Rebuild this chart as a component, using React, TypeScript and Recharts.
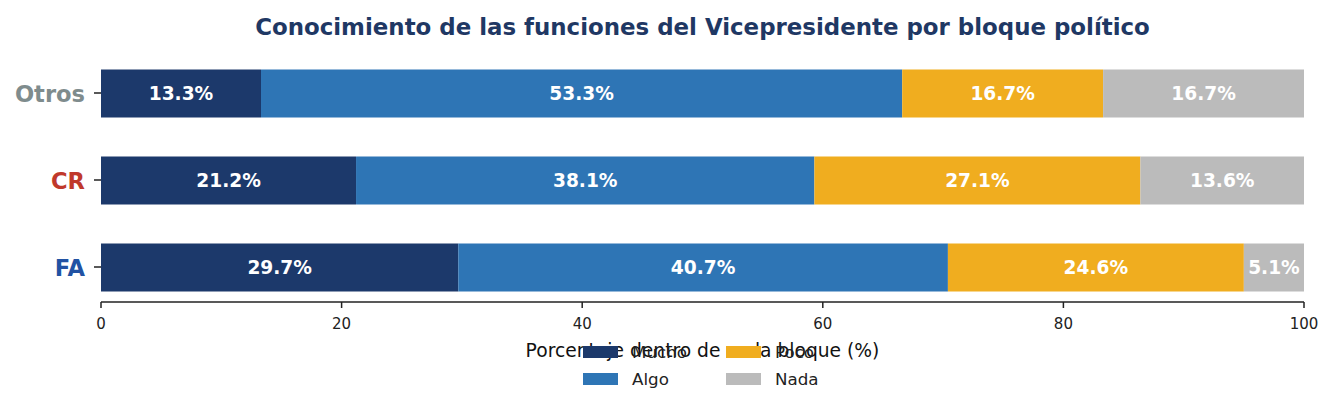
import React from "react";
import { BarChart, Bar, XAxis, YAxis, LabelList } from "recharts";

const categories = ["Otros", "CR", "FA"];
const mucho = [13.3, 21.2, 29.7];
const algo = [53.3, 38.1, 40.7];
const poco = [16.7, 27.1, 24.6];
const nada = [16.7, 13.6, 5.1];
const xTicks = [0, 20, 40, 60, 80, 100];

const seriesNames = ["Mucho", "Algo", "Poco", "Nada"];
const seriesKeys = ["mucho", "algo", "poco", "nada"];
const seriesColors = ["#1c396b", "#2e75b5", "#f0ad1f", "#bbbbbb"];
const catColors: Record<string, string> = { Otros: "#7f8c8d", CR: "#c0392b", FA: "#2152a3" };

const data = categories.map((c, i) => ({
  cat: c,
  mucho: mucho[i],
  algo: algo[i],
  poco: poco[i],
  nada: nada[i],
}));

const FONT = "'DejaVu Sans', sans-serif";

const YTick = (props: any) => {
  const { x, y, payload } = props;
  return (
    <text x={x} y={y} dy="0.38em" textAnchor="end" fontFamily={FONT} fontWeight="bold" fontSize={22.6} fill={catColors[payload.value]}>
      {payload.value}
    </text>
  );
};

const fmt = (v: any) => `${Number(v).toFixed(1)}%`;

export default function App() {
  return (
    <div style={{ position: "absolute", left: 0, top: 0, width: 1334, height: 411, background: "#fff", fontFamily: FONT }}>
      <div style={{ position: "absolute", left: 101, width: 1203, top: 14, textAlign: "center", fontSize: 22.9, fontWeight: "bold", color: "#1f3864", whiteSpace: "nowrap" }}>
        Conocimiento de las funciones del Vicepresidente por bloque político
      </div>
      <BarChart
        width={1334}
        height={411}
        data={data}
        layout="vertical"
        margin={{ top: 58, right: 30, bottom: 79, left: 0 }}
        barSize={48}
      >
        <XAxis
          type="number"
          domain={[0, 100]}
          ticks={xTicks}
          allowDataOverflow
          height={30}
          tickSize={6}
          tickMargin={10}
          axisLine={{ stroke: "#222", strokeWidth: 1.5 }}
          tickLine={{ stroke: "#222", strokeWidth: 1.5 }}
          tick={{ fill: "#222", fontSize: 15, fontFamily: FONT }}
        />
        <YAxis
          type="category"
          dataKey="cat"
          width={101}
          padding={{ top: -8.5, bottom: -8.5 }}
          axisLine={false}
          tickSize={7}
          tickMargin={9}
          tickLine={{ stroke: "#222", strokeWidth: 1.5 }}
          tick={<YTick />}
        />
        {seriesKeys.map((k, i) => (
          <Bar key={k} dataKey={k} stackId="a" fill={seriesColors[i]} isAnimationActive={false}>
            <LabelList dataKey={k} position="center" formatter={fmt} fill="#fff" fontSize={18.6} fontWeight="bold" fontFamily={FONT} />
          </Bar>
        ))}
      </BarChart>
      <div style={{ position: "absolute", left: 101, width: 1203, top: 340, textAlign: "center", fontSize: 18.7, color: "#111", whiteSpace: "nowrap" }}>
        Porcentaje dentro de cada bloque (%)
      </div>
      {seriesNames.map((n, i) => {
        const col = Math.floor(i / 2);
        const row = i % 2;
        const left = 583 + col * 143;
        const top = 346 + row * 27;
        return (
          <div key={n} style={{ position: "absolute", left, top }}>
            <div style={{ position: "absolute", left: 0, top: 0, width: 35, height: 12, background: seriesColors[i] }} />
            <div style={{ position: "absolute", left: 49, top: -5, fontSize: 16.7, color: "#222", whiteSpace: "nowrap", lineHeight: "22px" }}>{n}</div>
          </div>
        );
      })}
    </div>
  );
}
